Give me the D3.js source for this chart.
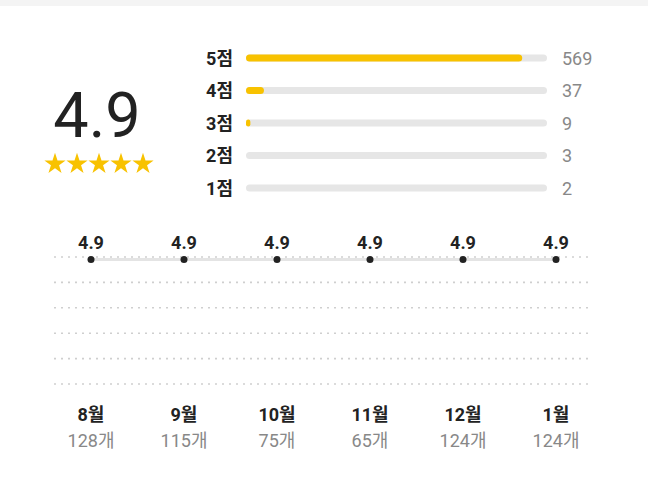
<!DOCTYPE html>
<html><head><meta charset="utf-8">
<script src="https://cdn.jsdelivr.net/npm/d3@7"></script>
<style>
html,body{margin:0;padding:0;background:#fff;}
svg{display:block;font-family:Roboto,"Noto Sans CJK KR",sans-serif;}
</style></head>
<body><svg id="c" width="648" height="490"></svg>
<script>
const scoreLabels = ["5점","4점","3점","2점","1점"];
const scoreCounts = [569, 37, 9, 3, 2];
const averageText = "4.9";
const starCount = 5;
const months = ["8월","9월","10월","11월","12월","1월"];
const monthAvg = [4.9, 4.9, 4.9, 4.9, 4.9, 4.9];
const monthCounts = ["128개","115개","75개","65개","124개","124개"];
const yTicks = [0,1,2,3,4,5];

const svg = d3.select("#c");
const yellow = "#f8c200";

svg.append("rect").attr("x",0).attr("y",0).attr("width",648).attr("height",6).attr("fill","#f4f4f4");

// big average
svg.append("text").attr("x",97).attr("y",137).attr("text-anchor","middle")
  .attr("font-size",63).attr("fill","#222").text(averageText);

// stars
const starX = d3.scaleBand().domain(d3.range(starCount)).range([44,154]);
const starPath = d3.symbol().type(d3.symbolStar).size(140);
svg.append("g").selectAll("path").data(d3.range(starCount)).join("path")
  .attr("d", starPath)
  .attr("transform", d => `translate(${starX(d)+starX.bandwidth()/2},164)`)
  .attr("fill", yellow);

// distribution bars
const total = d3.sum(scoreCounts);
const bx = d3.scaleLinear().domain([0,total]).range([246,547]);
const by = d3.scalePoint().domain(scoreLabels).range([58,188]);
const bh = 7;
const rows = svg.append("g").selectAll("g").data(scoreLabels).join("g")
  .attr("transform", d => `translate(0,${by(d)})`);
rows.append("rect").attr("x",bx(0)).attr("y",-bh/2).attr("height",bh)
  .attr("width",bx(total)-bx(0)).attr("rx",bh/2).attr("fill","#e6e6e6");
rows.filter((d,i)=>scoreCounts[i]/total > 0.01).append("rect")
  .attr("x",bx(0)).attr("y",-bh/2).attr("height",bh)
  .attr("width",d=>bx(scoreCounts[scoreLabels.indexOf(d)])-bx(0))
  .attr("rx",d=>Math.min(bh/2,(bx(scoreCounts[scoreLabels.indexOf(d)])-bx(0))/2))
  .attr("fill",yellow);
rows.append("text").attr("x",233).attr("y",6.5).attr("text-anchor","end")
  .attr("font-size",18).attr("font-weight","bold").attr("fill","#222").text(d=>d);
rows.append("text").attr("x",562).attr("y",6.5)
  .attr("font-size",18).attr("fill","#888").text((d,i)=>scoreCounts[i]);

// monthly chart
const x = d3.scalePoint().domain(months).range([91,556]);
const y = d3.scaleLinear().domain([0,5]).range([384,257]);

svg.append("g").selectAll("line").data(yTicks).join("line")
  .attr("x1",54).attr("x2",588).attr("y1",d=>y(d)).attr("y2",d=>y(d))
  .attr("stroke","#cfcfcf").attr("stroke-width",1.6).attr("stroke-dasharray","2,5");

const line = d3.line().x((d,i)=>x(months[i])).y(d=>y(d));
svg.append("path").datum(monthAvg).attr("d",line)
  .attr("fill","none").attr("stroke","#e4e4e4").attr("stroke-width",3);

svg.append("g").selectAll("circle").data(monthAvg).join("circle")
  .attr("cx",(d,i)=>x(months[i])).attr("cy",d=>y(d)).attr("r",3.5).attr("fill","#222");

svg.append("g").selectAll("text").data(monthAvg).join("text")
  .attr("x",(d,i)=>x(months[i])).attr("y",249).attr("text-anchor","middle")
  .attr("font-size",18).attr("font-weight","bold").attr("fill","#222").text(d=>d.toFixed(1));

svg.append("g").selectAll("text").data(months).join("text")
  .attr("x",d=>x(d)).attr("y",421).attr("text-anchor","middle")
  .attr("font-size",18).attr("font-weight","bold").attr("fill","#222").text(d=>d);

svg.append("g").selectAll("text").data(monthCounts).join("text")
  .attr("x",(d,i)=>x(months[i])).attr("y",447).attr("text-anchor","middle")
  .attr("font-size",18).attr("fill","#888").text(d=>d);
</script></body></html>
